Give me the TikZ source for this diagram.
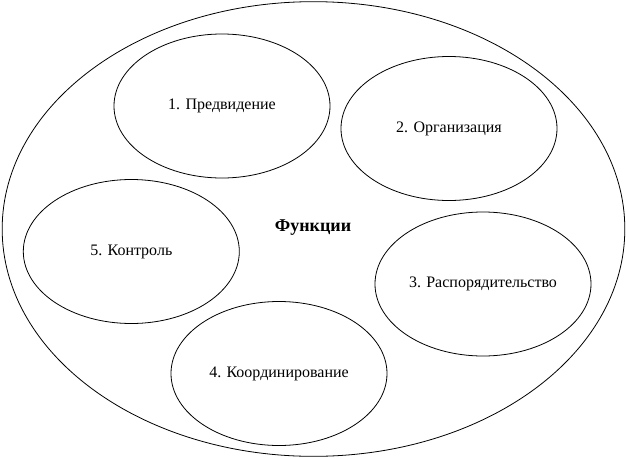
\documentclass[tikz,border=0pt]{standalone}
\usepackage{fontspec}
\setmainfont{Liberation Serif}
\usetikzlibrary{shapes.geometric}
\tikzset{
    func/.style={draw, ellipse, line width=0.6pt, inner sep=0pt,
        minimum width=162pt, minimum height=108pt, font=\fontsize{12}{14}\selectfont}
}
\begin{document}
\begin{tikzpicture}[x=0.75pt, y=-0.75pt]
\useasboundingbox (0,0) rectangle (626,458);
\node[func, minimum width=467pt, minimum height=341pt] (all) at (313.5,229) {};
\node at (313,228) (title) {\fontsize{13.5}{16}\selectfont\bfseries Функции};

\node[func] (f1) at (222,106) {1. Предвидение};
\node[func] (f2) at (449,128.5) {2. Организация};
\node[func] (f3) at (483,284) {3. Распорядительство};
\node[func] (f4) at (279,373.5) {4. Координирование};
\node[func] (f5) at (131.3,251.5) {5. Контроль};

\end{tikzpicture}
\end{document}
